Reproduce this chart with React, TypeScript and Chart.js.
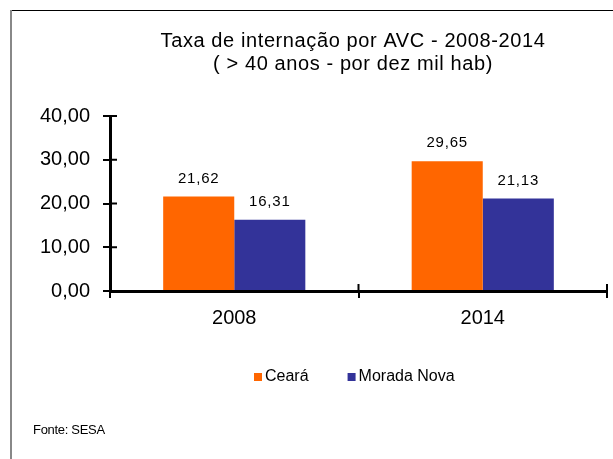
import React, { useEffect, useRef } from "react";
import { Chart, registerables } from "chart.js";

Chart.register(...registerables);

const categories = ["2008", "2014"];
const cearaValues = [21.62, 29.65];
const moradaNovaValues = [16.31, 21.13];
const seriesNames = ["Ceará", "Morada Nova"];
const titleLines = ["Taxa de internação por AVC - 2008-2014", "( > 40 anos - por dez mil hab)"];
const sourceText = "Fonte: SESA";
const yMin = 0;
const yMax = 40;
const yStep = 10;

const FONT = "'Liberation Sans', Arial, sans-serif";
const ORANGE = "#FF6600";
const BLUE = "#333399";

const fmt = (v: number) => v.toFixed(2).replace(".", ",");

const decorPlugin = {
  id: "decor",
  afterDraw(chart: any) {
    const ctx = chart.ctx as CanvasRenderingContext2D;
    const area = chart.chartArea;
    ctx.save();
    // frame
    ctx.strokeStyle = "#000";
    ctx.lineWidth = 1;
    ctx.beginPath();
    ctx.moveTo(11, 10.5);
    ctx.lineTo(chart.width, 10.5);
    ctx.stroke();
    ctx.strokeStyle = "#888";
    ctx.lineWidth = 2;
    ctx.beginPath();
    ctx.moveTo(11, 10);
    ctx.lineTo(11, chart.height);
    ctx.stroke();

    // inward tick marks
    ctx.strokeStyle = "#000";
    ctx.lineWidth = 2;
    const ys = chart.scales.y;
    ys.ticks.forEach((_t: any, i: number) => {
      const py = ys.getPixelForTick(i);
      ctx.beginPath();
      ctx.moveTo(area.left, py);
      ctx.lineTo(area.left + 7, py);
      ctx.stroke();
    });
    const xs = chart.scales.x;
    const n = xs.ticks.length;
    for (let i = 1; i <= n; i++) {
      const px = i < n ? xs.getPixelForTick(i) - (xs.width / n) / 2 : xs.right;
      ctx.beginPath();
      ctx.moveTo(px, area.bottom);
      ctx.lineTo(px, area.bottom - 7);
      ctx.stroke();
    }

    // title
    ctx.fillStyle = "#000";
    ctx.font = `20px ${FONT}`;
    ctx.textAlign = "center";
    ctx.textBaseline = "middle";
    (ctx as any).letterSpacing = "0.6px";
    ctx.fillText(titleLines[0], 353, 41);
    ctx.fillText(titleLines[1], 353, 64);
    (ctx as any).letterSpacing = "0px";

    // legend
    const colors = [ORANGE, BLUE];
    ctx.font = `16px ${FONT}`;
    ctx.textAlign = "left";
    let lx = 254;
    seriesNames.forEach((name, i) => {
      ctx.fillStyle = colors[i];
      ctx.fillRect(lx, 373, 8, 8);
      ctx.fillStyle = "#000";
      ctx.fillText(name, lx + 11, 377);
      lx += 11 + ctx.measureText(name).width + 39;
    });

    // source
    ctx.font = `13px ${FONT}`;
    ctx.fillStyle = "#000";
    (ctx as any).letterSpacing = "-0.3px";
    ctx.fillText(sourceText, 33, 430);
    (ctx as any).letterSpacing = "0px";
    ctx.restore();
  },
  afterDatasetsDraw(chart: any) {
    const ctx = chart.ctx as CanvasRenderingContext2D;
    ctx.save();
    ctx.font = `15px ${FONT}`;
    ctx.fillStyle = "#000";
    ctx.textAlign = "center";
    ctx.textBaseline = "middle";
    (ctx as any).letterSpacing = "0.8px";
    chart.data.datasets.forEach((ds: any, di: number) => {
      const meta = chart.getDatasetMeta(di);
      meta.data.forEach((bar: any, i: number) => {
        ctx.fillText(fmt(ds.data[i]), bar.x, bar.y - 18);
      });
    });
    (ctx as any).letterSpacing = "0px";
    ctx.restore();
  },
};

export default function App() {
  const ref = useRef<HTMLCanvasElement>(null);
  useEffect(() => {
    if (!ref.current) return;
    const chart = new Chart(ref.current, {
      type: "bar",
      data: {
        labels: categories,
        datasets: [
          { label: seriesNames[0], data: cearaValues, backgroundColor: ORANGE, borderWidth: 0 },
          { label: seriesNames[1], data: moradaNovaValues, backgroundColor: BLUE, borderWidth: 0 },
        ],
      },
      options: {
        animation: false,
        responsive: true,
        maintainAspectRatio: false,
        layout: { padding: { left: 10, top: 116, right: 6, bottom: 0 } },
        plugins: {
          legend: { display: false },
          title: { display: false },
          tooltip: { enabled: false },
        },
        datasets: { bar: { categoryPercentage: 0.572, barPercentage: 1.0 } },
        scales: {
          x: {
            afterFit: (s: any) => { s.height = 168; },
            grid: { drawOnChartArea: false, drawTicks: true, tickLength: 7, color: "#000", lineWidth: 2 },
            border: { color: "#000", width: 3 },
            ticks: { color: "#000", font: { family: FONT, size: 20 }, padding: 8 },
          },
          y: {
            min: yMin,
            max: yMax,
            afterFit: (s: any) => { s.width = 100; },
            grid: { drawOnChartArea: false, drawTicks: true, tickLength: 7, color: "#000", lineWidth: 2 },
            border: { color: "#000", width: 3 },
            ticks: {
              stepSize: yStep,
              color: "#000",
              font: { family: FONT, size: 20 },
              padding: 13,
              callback: (v: any) => fmt(Number(v)),
            },
          },
        },
      },
      plugins: [decorPlugin],
    });
    return () => chart.destroy();
  }, []);
  return (
    <div style={{ position: "fixed", left: 0, top: 0, width: 613, height: 459, background: "#fff" }}>
      <canvas ref={ref} />
    </div>
  );
}
